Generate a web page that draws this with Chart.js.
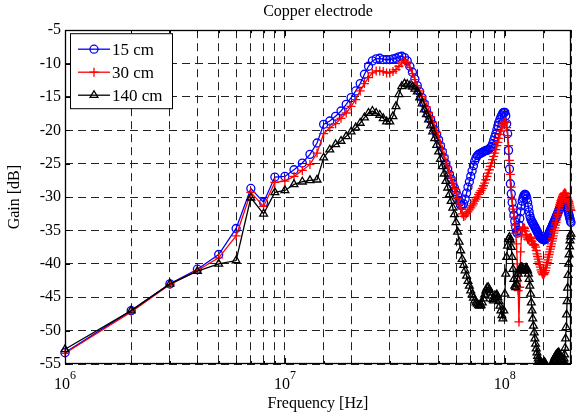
<!DOCTYPE html>
<html>
<head>
<meta charset="utf-8">
<script src="https://cdn.jsdelivr.net/npm/chart.js@4.4.1/dist/chart.umd.min.js"></script>
<style>
  html, body { margin:0; padding:0; background:#fff; }
  #wrap { width:578px; height:418px; }
</style>
</head>
<body>
<div id="wrap"><canvas id="chart" width="578" height="418"></canvas></div>
<script>
/* ── DATA ──────────────────────────────── */
// sweep frequencies, MHz (1 MHz step)
const FREQ_MHZ = [
  1,2,3,4,5,6,7,8,9,10,11,12,13,14,15,16,17,18,19,20,
  21,22,23,24,25,26,27,28,29,30,31,32,33,34,35,36,37,38,39,40,
  41,42,43,44,45,46,47,48,49,50,51,52,53,54,55,56,57,58,59,60,
  61,62,63,64,65,66,67,68,69,70,71,72,73,74,75,76,77,78,79,80,
  81,82,83,84,85,86,87,88,89,90,91,92,93,94,95,96,97,98,99,100,
  101,102,103,104,105,106,107,108,109,110,111,112,113,114,115,116,117,118,119,120,
  121,122,123,124,125,126,127,128,129,130,131,132,133,134,135,136,137,138,139,140,
  141,142,143,144,145,146,147,148,149,150,151,152,153,154,155,156,157,158,159,160,
  161,162,163,164,165,166,167,168,169,170,171,172,173,174,175,176,177,178,179,180,
  181,182,183,184,185,186,187,188,189,190,191,192,193,194,195,196,197,198,199,200
];

// gain, dB
const GAIN_15CM = [
  -53.3,-47.0,-43.0,-40.8,-38.6,-34.7,-28.7,-30.8,-27.0,-26.9,
  -25.9,-24.9,-23.6,-21.9,-19.1,-18.6,-17.9,-17.1,-16.1,-15.1,
  -14.1,-13.0,-11.6,-10.4,-9.6,-9.3,-9.2,-9.4,-9.4,-9.4,
  -9.3,-9.2,-9.0,-8.9,-9.1,-9.6,-10.4,-11.3,-12.3,-13.3,
  -14.2,-15.1,-16.0,-16.9,-17.7,-18.4,-19.1,-19.9,-20.6,-21.4,
  -22.3,-23.2,-24.1,-25.0,-25.8,-26.6,-27.3,-28.0,-28.6,-29.2,
  -29.8,-30.5,-31.2,-31.3,-31.0,-30.3,-29.4,-28.5,-27.7,-26.9,
  -26.1,-25.3,-24.6,-24.1,-23.8,-23.6,-23.5,-23.4,-23.3,-23.2,
  -23.1,-23.0,-23.0,-22.9,-22.8,-22.6,-22.4,-22.0,-21.5,-21.0,
  -20.5,-19.9,-19.3,-18.8,-18.4,-18.0,-17.7,-17.4,-17.3,-17.3,
  -17.8,-19.0,-20.5,-23.0,-25.8,-28.0,-29.5,-30.8,-31.8,-32.7,
  -33.6,-34.5,-35.2,-35.4,-35.0,-34.2,-33.2,-32.2,-31.3,-30.6,
  -30.1,-29.8,-29.6,-29.6,-29.8,-30.2,-30.8,-31.5,-32.2,-32.8,
  -33.2,-33.5,-33.7,-33.9,-34.1,-34.3,-34.5,-34.7,-34.9,-35.1,
  -35.3,-35.5,-35.7,-35.9,-36.0,-36.1,-36.2,-36.3,-36.3,-36.4,
  -36.4,-36.4,-36.3,-36.2,-36.1,-36.0,-35.8,-35.6,-35.4,-35.2,
  -35.0,-34.8,-34.6,-34.4,-34.2,-34.0,-33.8,-33.6,-33.4,-33.2,
  -33.0,-32.8,-32.6,-32.4,-32.2,-32.0,-31.8,-31.6,-31.4,-31.2,
  -31.0,-30.8,-30.7,-30.6,-30.5,-30.4,-30.4,-30.4,-30.6,-30.9,
  -31.2,-31.5,-31.8,-32.1,-32.4,-32.7,-33.0,-33.3,-33.6,-33.8
];

const GAIN_30CM = [
  -53.4,-47.2,-43.1,-41.0,-39.1,-35.8,-29.3,-31.4,-27.8,-27.6,
  -26.9,-26.0,-25.1,-23.4,-20.5,-19.6,-19.0,-18.2,-17.4,-16.4,
  -15.4,-14.1,-13.0,-12.1,-11.4,-11.1,-11.1,-11.2,-11.4,-11.4,
  -11.2,-10.9,-10.4,-9.9,-9.6,-9.9,-10.6,-11.5,-12.4,-13.3,
  -14.1,-14.9,-15.7,-16.5,-17.3,-18.0,-18.8,-19.6,-20.3,-21.1,
  -22.0,-22.9,-23.8,-24.7,-25.5,-26.3,-27.1,-27.9,-28.7,-29.4,
  -30.2,-31.0,-31.8,-32.5,-32.9,-32.8,-32.5,-32.2,-31.9,-31.6,
  -31.3,-31.0,-30.6,-30.3,-30.0,-29.6,-29.3,-29.0,-28.7,-28.3,
  -27.9,-27.4,-26.9,-26.4,-25.9,-25.4,-24.9,-24.4,-23.9,-23.4,
  -22.9,-22.3,-21.8,-21.2,-20.6,-20.1,-19.6,-19.2,-18.9,-18.7,
  -18.8,-19.6,-20.8,-22.3,-24.5,-26.6,-28.5,-30.3,-31.8,-33.0,
  -34.2,-35.4,-37.0,-40.0,-44.0,-48.7,-43.5,-38.2,-35.8,-35.0,
  -34.6,-34.5,-34.7,-35.1,-35.6,-36.0,-36.3,-36.4,-36.3,-36.1,
  -36.0,-36.2,-36.6,-37.0,-37.2,-37.1,-37.2,-37.5,-38.0,-38.5,
  -38.9,-39.3,-39.7,-40.1,-40.5,-40.9,-41.2,-41.4,-41.6,-41.6,
  -41.5,-41.3,-41.0,-40.6,-40.2,-39.8,-39.4,-39.0,-38.6,-38.2,
  -37.8,-37.4,-37.0,-36.6,-36.2,-35.8,-35.4,-35.0,-34.6,-34.2,
  -33.8,-33.4,-33.0,-32.6,-32.2,-31.8,-31.4,-31.1,-30.8,-30.5,
  -30.3,-30.1,-29.9,-29.7,-29.6,-29.5,-29.4,-29.4,-29.5,-29.7,
  -29.9,-30.1,-30.3,-30.5,-30.7,-30.9,-31.2,-31.5,-31.8,-32.0
];

const GAIN_140CM = [
  -52.8,-47.0,-43.0,-41.1,-40.0,-39.5,-30.1,-32.5,-29.3,-29.0,
  -28.1,-27.7,-27.5,-27.4,-24.1,-22.9,-22.1,-21.6,-20.9,-20.2,
  -19.6,-18.9,-18.1,-17.4,-17.1,-17.4,-17.7,-18.2,-18.7,-18.7,
  -17.9,-16.4,-14.6,-13.4,-13.0,-13.1,-13.3,-13.5,-13.8,-14.2,
  -15.1,-16.0,-16.9,-17.6,-18.4,-19.3,-20.2,-21.2,-22.2,-23.2,
  -24.3,-25.4,-26.5,-27.6,-28.6,-29.6,-30.6,-31.6,-32.6,-33.8,
  -35.2,-36.7,-38.0,-39.3,-40.2,-41.0,-41.8,-42.6,-43.3,-44.0,
  -44.6,-45.1,-45.5,-45.8,-46.0,-46.2,-46.3,-46.2,-45.8,-45.2,
  -44.6,-44.0,-43.6,-43.5,-43.8,-44.3,-44.8,-45.3,-45.5,-45.2,
  -44.8,-44.6,-45.0,-45.6,-46.3,-47.0,-47.7,-48.2,-47.0,-44.5,
  -41.5,-39.0,-37.3,-36.3,-36.0,-36.4,-37.5,-39.0,-40.8,-42.3,
  -43.3,-43.5,-43.0,-42.2,-41.5,-41.0,-40.8,-40.6,-40.5,-40.6,
  -40.8,-41.0,-41.0,-40.8,-40.6,-40.7,-41.0,-41.5,-42.3,-43.3,
  -44.5,-45.8,-47.0,-48.2,-49.3,-50.3,-51.2,-52.0,-52.7,-53.3,
  -53.8,-54.2,-54.5,-54.8,-55.0,-55.2,-55.3,-55.2,-55.0,-54.8,
  -54.7,-54.8,-55.0,-55.3,-55.6,-55.9,-56.2,-56.5,-56.6,-56.5,
  -56.2,-55.9,-55.6,-55.3,-55.0,-54.7,-54.4,-54.2,-54.0,-53.8,
  -53.7,-53.6,-53.5,-53.4,-53.4,-53.3,-53.5,-53.7,-54.0,-54.3,
  -54.5,-54.7,-54.8,-54.7,-54.5,-54.2,-53.6,-52.6,-51.2,-49.5,
  -47.6,-45.6,-43.6,-41.7,-40.0,-38.6,-37.4,-36.5,-35.9,-35.5
];

const SERIES_LABELS = ['15 cm', '30 cm', '140 cm'];
const Y_TICKS = [-55, -50, -45, -40, -35, -30, -25, -20, -15, -10, -5];
const X_DECADES = [1e6, 1e7, 1e8];

/* ── STYLE ─────────────────────────────── */
const FONT = '"Liberation Serif", "Times New Roman", serif';
Chart.defaults.font.family = FONT;
Chart.defaults.color = '#000';

const STYLES = [
  { color:'#0000ff', point:'circle',   radius:4,   order:3 },
  { color:'#ff0000', point:'cross',    radius:4.5, order:2 },
  { color:'#000000', point:'triangle', radius:4.5, order:1 },
];

const toPoints = vals => FREQ_MHZ.map((f, i) => ({ x: f * 1e6, y: vals[i] }));
const isDecade = v => Math.abs(Math.log10(v) - Math.round(Math.log10(v))) < 1e-9;

/* ── PLUGIN: box, inner ticks, exponent labels, legend ── */
const frame = {
  id: 'frame',
  afterDraw(chart) {
    const { ctx, chartArea: a, scales: { x, y } } = chart;
    ctx.save();
    ctx.strokeStyle = '#000';
    ctx.lineWidth = 1;

    // inner tick marks (matlab style)
    ctx.beginPath();
    x.ticks.forEach(t => {
      const px = Math.round(x.getPixelForValue(t.value)) + 0.5;
      const len = isDecade(t.value) ? 6 : 3;
      ctx.moveTo(px, a.bottom); ctx.lineTo(px, a.bottom - len);
      ctx.moveTo(px, a.top);    ctx.lineTo(px, a.top + len);
    });
    y.ticks.forEach(t => {
      const py = Math.round(y.getPixelForValue(t.value)) + 0.5;
      ctx.moveTo(a.left, py);  ctx.lineTo(a.left + 5, py);
      ctx.moveTo(a.right, py); ctx.lineTo(a.right - 5, py);
    });
    ctx.stroke();

    // axes box
    ctx.lineWidth = 1.3;
    ctx.strokeRect(Math.round(a.left) + 0.5, Math.round(a.top) + 0.5,
                   Math.round(a.right - a.left) - 1, Math.round(a.bottom - a.top) - 1);
    ctx.lineWidth = 1;

    // x labels 10^n
    ctx.fillStyle = '#000';
    ctx.textBaseline = 'middle';
    ctx.textAlign = 'left';
    X_DECADES.forEach(v => {
      const px = x.getPixelForValue(v);
      const exp = String(Math.round(Math.log10(v)));
      ctx.font = '16px ' + FONT;
      const w1 = ctx.measureText('10').width;
      ctx.font = '12px ' + FONT;
      const w2 = ctx.measureText(exp).width;
      const x0 = px - (w1 + w2) / 2;
      ctx.font = '16px ' + FONT;
      ctx.fillText('10', x0, a.bottom + 21);
      ctx.font = '12px ' + FONT;
      ctx.fillText(exp, x0 + w1, a.bottom + 12);
    });

    // legend
    const lx = a.left + 5, ly = a.top + 3, lw = 102, lh = 75;
    ctx.fillStyle = '#fff';
    ctx.fillRect(lx, ly, lw, lh);
    ctx.strokeRect(lx + 0.5, ly + 0.5, lw, lh);
    chart.data.datasets.forEach((ds, i) => {
      const st = STYLES[i];
      const cy = ly + 16 + i * 23;
      ctx.strokeStyle = st.color;
      ctx.lineWidth = 1.3;
      ctx.beginPath();
      ctx.moveTo(lx + 8, cy); ctx.lineTo(lx + 40, cy);
      ctx.stroke();
      ctx.fillStyle = 'rgba(0,0,0,0)';
      Chart.helpers.drawPoint(ctx, { pointStyle: st.point, radius: st.radius, borderWidth: 1.3, rotation: 0 }, lx + 24, cy);
      ctx.fillStyle = '#000';
      ctx.font = '17px ' + FONT;
      ctx.fillText(ds.label, lx + 42, cy + 1);
    });
    ctx.restore();
  }
};

/* ── CHART ─────────────────────────────── */
const datasets = [GAIN_15CM, GAIN_30CM, GAIN_140CM].map((vals, i) => ({
  label: SERIES_LABELS[i],
  data: toPoints(vals),
  borderColor: STYLES[i].color,
  backgroundColor: 'rgba(0,0,0,0)',
  borderWidth: 1.3,
  pointStyle: STYLES[i].point,
  pointRadius: STYLES[i].radius,
  pointBorderWidth: 1.3,
  pointBorderColor: STYLES[i].color,
  pointBackgroundColor: 'rgba(0,0,0,0)',
  tension: 0,
  order: STYLES[i].order,
  clip: { left: 5, right: 5, top: 5, bottom: 1 },
}));

new Chart(document.getElementById('chart'), {
  type: 'line',
  data: { datasets },
  plugins: [frame],
  options: {
    responsive: false,
    animation: false,
    events: [],
    layout: { padding: { left: 0, right: 7, top: 0, bottom: 0 } },
    plugins: {
      legend: { display: false },
      tooltip: { enabled: false },
      title: {
        display: true, text: 'Copper electrode', fullSize: false,
        font: { size: 16, weight: 'normal', family: FONT, lineHeight: 1.2 },
        color: '#000',
        padding: { top: 2, bottom: 9 }
      }
    },
    scales: {
      x: {
        type: 'logarithmic',
        min: 1e6, max: 2e8,
        afterFit(s) { s.height = 54; },
        ticks: { display: false, autoSkip: false },
        grid: { color: '#222', lineWidth: 1, drawTicks: false },
        border: { display: false, dash: [8, 5] },
        title: {
          display: true, text: 'Frequency [Hz]', color: '#000',
          font: { size: 16, family: FONT, lineHeight: 1.2 },
          padding: { top: 0, bottom: 5 }
        }
      },
      y: {
        type: 'linear',
        min: -55, max: -5,
        afterFit(s) { s.width = 65; },
        afterBuildTicks(s) { s.ticks = Y_TICKS.map(v => ({ value: v })); },
        ticks: { padding: 4, font: { size: 16, family: FONT }, color: '#000' },
        grid: { color: '#222', lineWidth: 1, drawTicks: false },
        border: { display: false, dash: [8, 5] },
        title: {
          display: true, text: 'Gain [dB]', color: '#000',
          font: { size: 16, family: FONT, lineHeight: 1.2 },
          padding: { top: 5, bottom: 0 }
        }
      }
    }
  }
});
</script>
</body>
</html>
